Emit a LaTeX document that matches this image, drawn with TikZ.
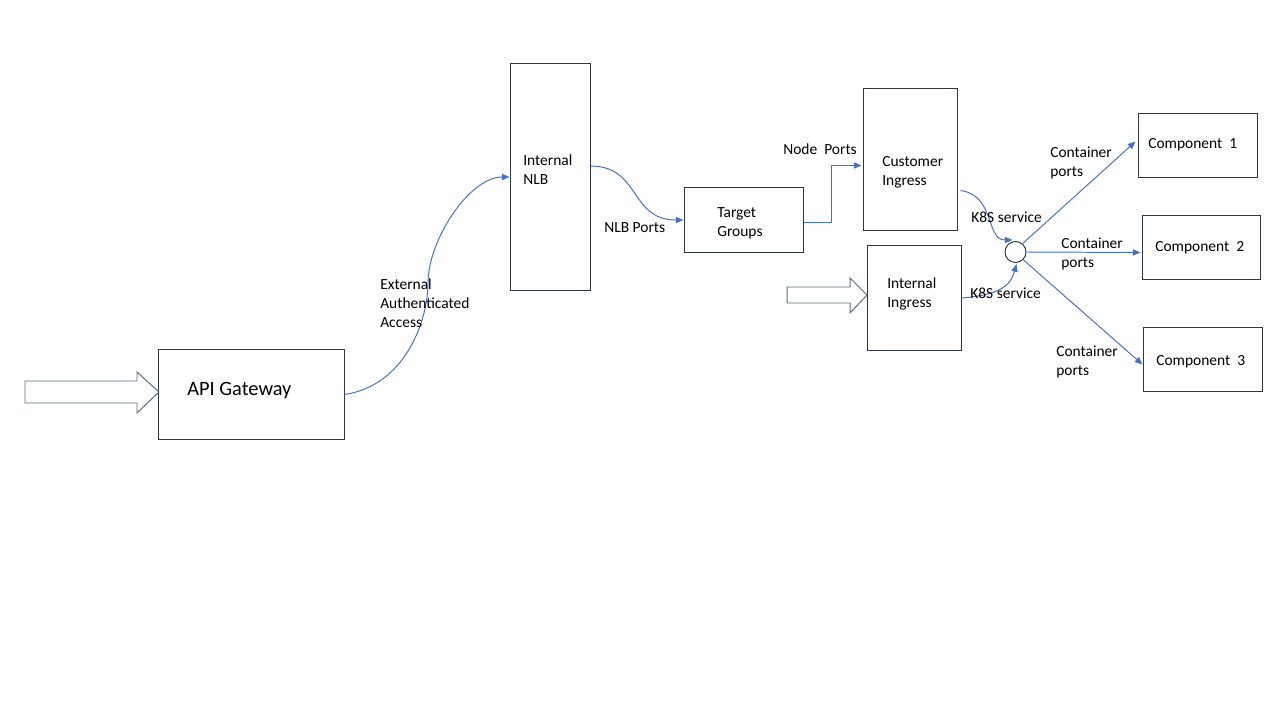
\documentclass[tikz,border=0pt]{standalone}
\usepackage{fontspec}
\setmainfont{Carlito}
\usepackage{xcolor}
\usetikzlibrary{arrows.meta,calc}

\definecolor{boxc}{HTML}{2B3847}
\definecolor{linec}{HTML}{4472C4}
\definecolor{fatc}{HTML}{5A6E82}

\begin{document}
\begin{tikzpicture}[x=0.025cm, y=-0.025cm,
  box/.style={draw=boxc, line width=0.7pt, inner sep=0pt},
  conn/.style={draw=linec, line width=0.7pt, -{Triangle[length=5.5pt,width=4.5pt]}},
  lbl/.style={anchor=west, font=\fontsize{11}{13.5}\selectfont, align=left, inner sep=0pt},
  fat/.style={draw=fatc, line width=0.7pt, fill=white}]
\fill[white] (0,0) rectangle (1280,720);
\useasboundingbox (0,0) rectangle (1280,720);

% Boxes
\node[box, minimum width=4.625cm, minimum height=2.225cm] (api) at (251.5,394.5) {};
\node[box, minimum width=2cm, minimum height=5.65cm] (nlb) at (550,177) {};
\node[box, minimum width=2.975cm, minimum height=1.6cm] (tg) at (743.5,220) {};
\node[box, minimum width=2.35cm, minimum height=3.525cm] (cing) at (910,159.5) {};
\node[box, minimum width=2.35cm, minimum height=2.6cm] (iing) at (914,298) {};
\node[box, circle, minimum size=0.525cm] (svc) at (1015.5,252) {};
\node[box, minimum width=2.975cm, minimum height=1.575cm] (c1) at (1197.5,145.5) {};
\node[box, minimum width=2.95cm, minimum height=1.575cm] (c2) at (1201,247.5) {};
\node[box, minimum width=2.975cm, minimum height=1.575cm] (c3) at (1202.5,359.5) {};

% Box texts
\node[lbl, font=\fontsize{14.5}{17}\selectfont] (apitxt) at (187,391) {API Gateway};
\node[lbl] (nlbtxt) at (523,170) {Internal\\NLB};
\node[lbl] (tgtxt) at (717,223) {Target\\Groups};
\node[lbl] (cingtxt) at (882,172) {Customer\\Ingress};
\node[lbl] (iingtxt) at (887,294) {Internal\\Ingress};
\node[lbl] (c1txt) at (1148,144.5) {Component~~1};
\node[lbl] (c2txt) at (1155,247.5) {Component~~2};
\node[lbl] (c3txt) at (1156,361.5) {Component~~3};

% Incoming block arrows
\draw[fat] (25,381) -- (137,381) -- (137,372) -- (159,392) -- (137,413) -- (137,403) -- (25,403) -- cycle;
\draw[fat] (787,287) -- (850,287) -- (850,278) -- (867,295) -- (850,313) -- (850,303) -- (787,303) -- cycle;

% Connectors
\draw[conn] (api.east) .. controls +(61,-9) and +(0,37) .. (428,283)
  .. controls +(0,-43) and +(-40,0) .. (nlb.west);
\draw[conn] ($(nlb.east)+(0,-11)$) .. controls +(50,0) and +(-54,0) .. (tg.west);
\draw[conn] ($(tg.east)+(0,2)$) -- ++(28,0) |- ($(cing.west)+(-1,6)$);
\draw[conn] ($(cing.east)+(3,31)$) .. controls +(35,5) and +(-27,0) .. ($(svc.north)+(-3,-1)$);
\draw[conn] (iing.east) .. controls +(38,-3) and +(-6,22) .. ($(svc.south)+(1,1)$);
\draw[conn] (svc.50) -- ($(c1.west)+(-2,-4)$);
\draw[conn] (svc.east) -- ($(c2.west)+(-1,5)$);
\draw[conn] (svc.-45) -- ($(c3.west)+(0,5)$);

% Connector labels
\node[lbl] (ext) at (380,303) {External\\Authenticated\\Access};
\node[lbl] (nlbp) at (604,228) {NLB Ports};
\node[lbl] (nodep) at (783,149) {Node~ Ports};
\node[lbl] (k8s1) at (971,217) {K8S service};
\node[lbl] (k8s2) at (970,293) {K8S service};
\node[lbl] (cp1) at (1050,163) {Container\\ports};
\node[lbl] (cp2) at (1061,254) {Container\\ports};
\node[lbl] (cp3) at (1056,362) {Container\\ports};
\end{tikzpicture}
\end{document}
